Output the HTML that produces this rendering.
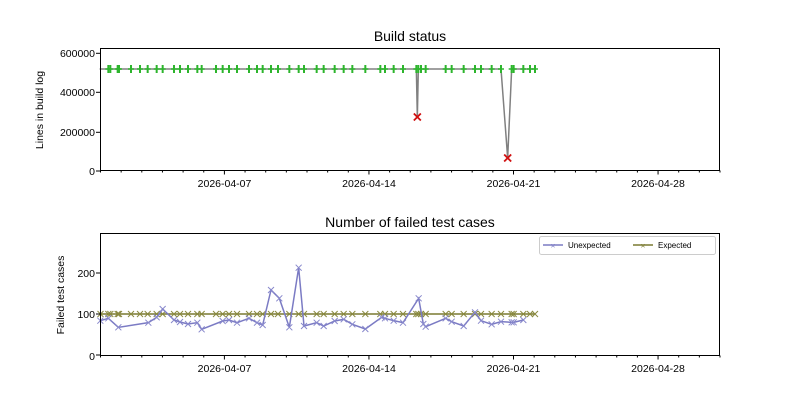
<html><body style="margin:0;background:#fff">
<svg width="800" height="400" xmlns="http://www.w3.org/2000/svg" font-family="Liberation Sans, DejaVu Sans, sans-serif">
<rect width="800" height="400" fill="#fff"/>
<text x="410" y="41" font-size="14" text-anchor="middle">Build status</text>
<text x="410" y="227" font-size="14" text-anchor="middle">Number of failed test cases</text>
<g font-size="10.5" text-anchor="end">
<text x="95" y="57">600000</text><text x="95" y="96">400000</text><text x="95" y="136">200000</text><text x="95" y="175">0</text>
<text x="95" y="277">200</text><text x="95" y="318">100</text><text x="95" y="360">0</text>
</g>
<g font-size="10.5" text-anchor="middle">
<text x="224.5" y="187">2026-04-07</text><text x="369" y="187">2026-04-14</text><text x="513.5" y="187">2026-04-21</text><text x="658" y="187">2026-04-28</text>
<text x="224.5" y="372">2026-04-07</text><text x="369" y="372">2026-04-14</text><text x="513.5" y="372">2026-04-21</text><text x="658" y="372">2026-04-28</text>
</g>
<text transform="translate(43,110) rotate(-90)" font-size="10.5" text-anchor="middle">Lines in build log</text>
<text transform="translate(64,295) rotate(-90)" font-size="10.5" text-anchor="middle">Failed test cases</text>
<g id="plots"></g>
<rect x="100.5" y="48.5" width="619" height="122" fill="none" stroke="#000" stroke-width="1"/>
<rect x="100.5" y="233.5" width="619" height="122" fill="none" stroke="#000" stroke-width="1"/>
<g id="ticks" stroke="#000"></g>
<rect x="539.5" y="236.5" width="176" height="18" rx="2" fill="#fff" stroke="#ccc"/>
<line x1="543" y1="245" x2="563" y2="245" stroke="#7b7bc4" stroke-width="1.5"/><text x="553" y="248.5" font-size="8" text-anchor="middle" fill="#7b7bc4">×</text>
<text x="568" y="248" font-size="8">Unexpected</text>
<line x1="633" y1="245" x2="653" y2="245" stroke="#7a7a30" stroke-width="1.5"/><text x="643" y="248.5" font-size="8" text-anchor="middle" fill="#7a7a30">×</text>
<text x="658" y="248" font-size="8">Expected</text>
</svg>
<script>
const NS="http://www.w3.org/2000/svg";
function el(t,a,p){const e=document.createElementNS(NS,t);for(const k in a)e.setAttribute(k,a[k]);(p||document.getElementById('plots')).appendChild(e);return e;}
const g=[14,40,46,68,72,108,135,158,185,203,237,255,279,307,320,363,383,402,426,462,486,503,528,549,583,611,627,665,686,719,746,772,811,856,870,896,924,964,967,970,978,992,1052,1070,1106,1140,1158,1190,1218,1238,1250,1256,1285,1305,1320].map(v=>95+v/3);
const d1=95+967/3,d2=95+1238/3;
let pts=g.map(x=>{let y=69;if(Math.abs(x-d1)<0.1)y=117;if(Math.abs(x-d2)<0.1)y=158;return [x,y];});
el('polyline',{points:pts.map(p=>p.join(',')).join(' '),fill:'none',stroke:'#808080','stroke-width':1.5});
pts.forEach(([x,y])=>{if(x<101)return;if(y==69){el('line',{x1:x,y1:y-4,x2:x,y2:y+4,stroke:'#2db52d','stroke-width':2});el('line',{x1:x-3,y1:y,x2:x+3,y2:y,stroke:'#2db52d','stroke-width':1.5});}else{el('path',{d:`M${x-3.5},${y-3.5}L${x+3.5},${y+3.5}M${x-3.5},${y+3.5}L${x+3.5},${y-3.5}`,stroke:'#d01010','stroke-width':1.8});}});
const ex=g.filter(x=>Math.abs(x-d1)>0.1&&Math.abs(x-d2)>0.1&&x>=101);
ex.unshift(100.5);
el('polyline',{points:ex.map(x=>x+',314').join(' '),fill:'none',stroke:'#7a7a30','stroke-width':1.5});
ex.forEach(x=>el('path',{d:`M${x-3},311L${x+3},317M${x-3},317L${x+3},311`,stroke:'#8a8a40','stroke-width':1}));
const u=[[16,272],[40,265],[70,292],[160,278],[185,262],[203,237],[237,270],[255,276],[279,282],[307,278],[320,298],[383,273],[402,270],[426,278],[462,265],[486,278],[503,285],[528,180],[553,205],[583,292],[611,113],[627,288],[665,278],[686,288],[719,273],[746,268],[772,283],[811,297],[860,262],[870,265],[896,272],[924,278],[971,205],[985,282],[992,290],[1052,265],[1070,275],[1106,288],[1140,247],[1158,272],[1190,283],[1218,275],[1250,277],[1256,277],[1285,270]].map(([a,b])=>[95+a/3,230+b/3]);
el('polyline',{points:u.map(p=>p.join(',')).join(' '),fill:'none',stroke:'#7b7bc4','stroke-width':1.5});
u.forEach(([x,y])=>el('path',{d:`M${x-3},${y-3}L${x+3},${y+3}M${x-3},${y+3}L${x+3},${y-3}`,stroke:'#8888cc','stroke-width':1}));
const T=document.getElementById('ticks');
for(let d=0;d<=30;d++){const x=100.5+d*20.65;const maj=(d%7==6);const L=maj?4:2;[170.5,355.5].forEach(b=>el('line',{x1:x,y1:b,x2:x,y2:b+L},T));}
[53.3,92.3,132.3,171].forEach(y=>el('line',{x1:96,y1:y,x2:100,y2:y},T));
[273,314,355].forEach(y=>el('line',{x1:96,y1:y,x2:100,y2:y},T));
</script>
</body></html>
